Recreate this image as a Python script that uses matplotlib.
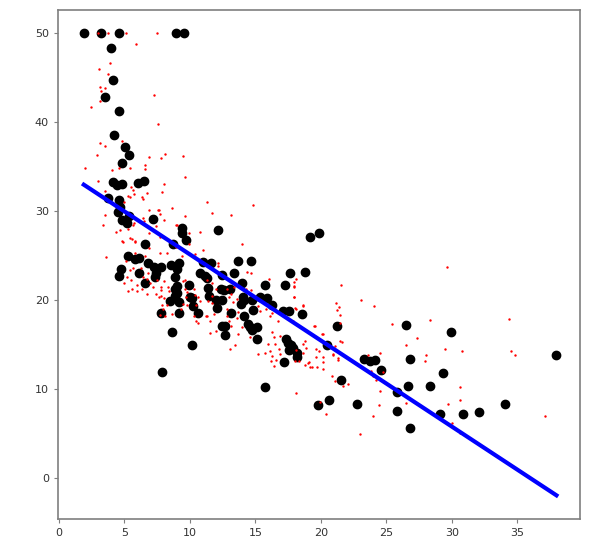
import matplotlib
matplotlib.use('Agg')
import matplotlib.pyplot as plt

# 测试集（黑点）
test_x = [1.89, 3.18, 4.61, 8.91, 9.55,
          3.97, 4.13, 3.54, 4.61, 4.18, 5.07, 5.32, 4.84,
          4.13, 4.46, 4.84, 6.04, 6.49,
          3.77, 4.61, 4.66, 4.53, 4.79, 5.22, 5.32,
          7.21, 9.42, 9.42, 9.70, 12.15, 19.17, 19.84,
          6.55, 8.71,
          5.27, 5.79, 6.08, 6.78, 7.23, 7.76, 8.55, 9.18,
          10.98, 11.63, 13.65, 14.64,
          4.71, 4.56, 6.14, 6.57, 7.41, 7.36, 9.04, 8.86,
          10.8, 11.13, 11.3, 12.45, 13.37, 14.0, 15.76, 17.3, 17.67, 18.8,
          11.38, 11.48, 12.35, 12.6, 13.06, 12.0, 12.45, 12.1,
          14.08, 13.93, 14.16, 14.77, 15.36, 15.87, 16.25,
          17.09, 17.57, 18.54, 13.16, 14.16, 14.8,
          14.44, 14.6, 14.74, 15.15, 15.1, 12.45, 12.7, 12.66,
          17.34, 17.5, 17.7, 17.9, 17.6, 18.16, 18.16, 17.19,
          20.45, 21.2,
          8.99, 8.84, 9.04, 8.86, 9.14, 8.48, 9.95, 10.0, 10.14, 10.2, 10.62, 9.2, 7.77, 8.63, 10.14, 7.89, 15.74,
          19.81, 20.65, 21.54, 22.74, 23.3, 23.76, 24.14, 24.6, 25.8, 25.82, 26.5, 26.84, 26.66, 26.84,
          28.34, 29.34, 29.1, 29.97, 30.84, 32.06, 34.07, 37.99]
test_y = [50, 50, 50, 50, 50,
          48.3, 44.7, 42.8, 41.3, 38.6, 37.2, 36.3, 35.4,
          33.3, 32.9, 33.1, 33.2, 33.4,
          31.5, 31.2, 30.5, 29.9, 29.0, 28.7, 29.4,
          29.1, 28.1, 27.5, 26.7, 27.9, 27.1, 27.5,
          26.3, 26.3,
          25.0, 24.6, 24.75, 24.2, 23.75, 23.7, 23.9, 24.2,
          24.25, 24.2, 24.4, 24.35,
          23.5, 22.75, 23.0, 21.9, 23.05, 22.55, 23.5, 22.55,
          23.05, 22.7, 22.5, 22.8, 23.1, 21.9, 21.7, 21.7, 23.1, 23.2,
          21.4, 20.5, 21.2, 21.1, 21.2, 20.05, 20.0, 19.1,
          20.4, 19.6, 20.05, 20.05, 20.35, 20.25, 19.4,
          18.75, 18.75, 18.45, 18.6, 18.25, 18.85,
          17.35, 17.0, 16.6, 17.0, 15.6, 17.1, 17.1, 16.1,
          15.6, 15.2, 14.9, 14.6, 14.4, 14.1, 13.6, 13.0,
          15.0, 17.1,
          21.55, 21.2, 20.8, 20.5, 19.75, 19.95, 21.65, 20.3, 20.25, 19.3, 18.6, 18.6, 18.55, 16.4, 14.95, 11.9, 10.2,
          8.2, 8.75, 11.0, 8.35, 13.4, 13.1, 13.25, 12.2, 9.7, 7.5, 17.2, 13.4, 10.3, 5.6,
          10.4, 11.8, 7.2, 16.4, 7.2, 7.4, 8.35, 13.8]

# 训练集（红点）
train_x = [2.96, 3.72, 5.12, 7.49, 5.91, 3.9, 3.06, 3.77, 3.11, 3.54, 3.18, 3.13, 7.28, 2.47, 7.56,
           4.84, 3.13, 3.54, 2.9, 6.9, 7.77, 8.12, 9.5, 1.96, 4.05, 4.6, 5.4, 6.57, 6.6, 9.65,
           2.98, 8.05, 3.54, 5.48, 5.67, 7.84, 6.7, 5.4, 6.45,
           3.54, 3.34, 3.59, 11.28, 11.7, 14.8, 13.14, 8.63, 7.54, 6.88, 8.05, 7.7, 9.63,
           14.0, 10.77, 9.95, 8.99, 7.4, 4.33, 5.68, 6.51, 5.55, 4.84, 5.83, 6.88, 7.7, 9.42,
           10.4, 10.98, 12.17,
           5.27, 5.72, 6.36, 4.99, 7.62, 5.73, 6.4, 4.69, 5.3, 4.86, 5.4, 5.83, 6.9, 7.72,
           8.91, 9.93, 8.23, 8.94, 5.8, 5.1, 5.42, 5.63, 6.25, 6.6, 6.44, 6.78, 5.16, 5.52,
           4.99, 5.55, 5.99, 5.3, 5.94, 6.3, 6.7, 6.93, 7.2, 7.5, 7.8, 7.4, 7.8, 8.05, 8.3,
           8.4, 6.75, 8.0, 8.28, 7.97, 7.8, 7.85, 9.45, 9.6, 9.63, 9.8, 9.7, 9.5, 9.3, 9.8,
           10.3, 10.4, 10.6, 10.5, 10.8, 10.3, 10.47, 10.6, 11.2, 11.35, 11.5, 8.63, 8.1,
           7.7, 7.62,
           12.12, 14.34, 14.7, 16.07, 18.1, 17.95, 21.52, 11.28, 11.7, 12.0, 12.8, 13.4, 13.1,
           14.3, 14.7, 11.7, 13.0, 13.3, 13.6, 11.7, 11.28, 11.8, 12.8, 12.8, 13.6, 13.7, 15.2,
           15.35, 15.8, 16.1, 16.3, 16.7, 17.0, 17.95, 18.1, 18.6, 17.9, 11.5, 13.0, 12.0,
           13.1, 14.0, 13.7, 14.6, 16.25, 16.4, 16.9, 16.0, 16.5, 16.1, 16.8, 15.74, 15.2,
           16.3, 16.9, 13.44, 13.06, 16.2, 16.6, 16.4, 18.3, 18.66, 18.9, 19.56, 20.14, 21.2,
           21.46, 21.5, 21.1, 21.6, 19.85, 19.6, 20.2, 19.0, 19.3, 19.7, 20.9, 21.3,
           21.16, 21.4, 23.07, 24.04, 17.95, 17.95, 18.66, 18.0, 19.48, 20.1, 21.47, 18.6,
           18.8, 18.1, 19.6, 20.2, 20.9, 21.3, 18.0, 18.8, 19.1, 19.2, 20.2, 20.88, 21.1,
           21.7, 22.1, 18.08, 19.9, 20.4, 23.0, 23.6, 24.5, 23.8, 24.0, 24.2, 24.5, 24.47,
           24.0, 23.02, 24.75, 25.46, 26.5, 27.33, 26.5, 28.0, 27.95, 28.34, 29.5, 30.8,
           30.66, 30.66, 29.7, 30.0, 30.66, 34.4, 34.5, 34.85, 37.1, 17.95, 29.64]
train_y = [50, 50, 50, 50, 48.75, 46.65, 46.0, 45.4, 44.0, 43.8, 43.5, 42.4, 43.05, 41.7, 39.8,
           37.9, 37.6, 37.3, 36.3, 36.1, 36.0, 36.4, 36.2, 34.9, 34.65, 34.9, 34.8, 35.2, 34.7, 33.8,
           33.4, 33.0, 32.3, 32.7, 32.4, 32.2, 32.0, 31.6, 31.4,
           29.6, 28.45, 24.8, 31.0, 29.8, 30.65, 29.6, 30.3, 30.1, 30.1, 29.0, 29.7, 29.5,
           26.3, 27.6, 26.3, 28.4, 28.3, 27.7, 28.4, 28.9, 26.9, 26.6, 26.6, 25.9, 25.3, 25.0,
           25.2, 25.6, 24.2,
           31.7, 31.9, 31.6, 31.0, 30.1, 28.65, 29.2, 27.9, 28.0, 26.5, 27.0, 26.5, 27.5, 27.1,
           28.4, 27.5, 25.3, 26.0, 25.3, 24.4, 23.4, 23.6, 23.6, 24.9, 22.55, 23.1, 22.55, 22.3,
           21.9, 21.2, 21.7, 21.0, 21.0, 21.3, 22.4, 21.9, 21.5, 22.3, 21.5, 20.7, 21.1, 22.1, 21.5,
           21.0, 20.7, 20.2, 19.5, 19.0, 20.5, 19.5, 22.1, 22.3, 21.2, 20.9, 20.3, 19.6, 19.0, 19.5,
           21.2, 20.6, 20.3, 19.5, 19.9, 18.2, 17.6, 17.4, 18.2, 19.9, 16.25, 18.4, 18.2,
           18.3, 20.3,
           23.8, 23.2, 23.0, 22.4, 22.4, 21.5, 21.7, 22.3, 21.9, 21.2, 21.3, 21.5, 20.7,
           21.3, 21.1, 20.5, 20.3, 19.8, 20.1, 19.7, 18.2, 18.45, 19.0, 18.2, 18.0, 18.7, 19.3,
           18.8, 19.0, 18.2, 18.5, 17.7, 18.4, 20.4, 19.0, 19.3, 17.7, 17.6, 17.6, 16.5,
           17.1, 17.0, 16.2, 15.8, 16.4, 15.8, 16.0, 15.1, 15.1, 14.3, 14.5, 14.1, 13.9,
           13.7, 13.9, 15.0, 14.45, 13.1, 13.3, 12.6, 13.2, 14.1, 14.6, 17.05, 16.2, 18.9,
           18.3, 17.4, 14.8, 15.3, 14.25, 13.6, 13.0, 12.9, 12.5, 12.5, 13.9, 13.3,
           19.7, 19.2, 20.0, 19.3, 21.55, 20.4, 19.5, 19.1, 17.05, 16.2, 15.4, 15.1,
           15.4, 14.4, 14.5, 13.6, 13.8, 13.5, 13.2, 12.7, 13.0, 12.5, 12.3, 11.45, 10.9,
           10.4, 10.6, 9.6, 8.5, 7.2, 12.6, 13.85, 14.0, 12.0, 11.5, 11.0, 9.8, 8.2,
           7.0, 5.0, 11.9, 17.3, 14.9, 15.7, 8.4, 13.8, 13.2, 17.8, 14.5, 14.3,
           10.25, 8.8, 8.3, 6.2, 5.1, 17.9, 14.3, 13.8, 7.0, 22.0, 23.7]

# 回归线（预测值）
line_x = [1.89, 38.0]
line_y = [32.97, -1.94]

fig = plt.figure(figsize=(6.04, 5.49), dpi=100)
ax = fig.add_axes([58 / 604, 1 - 519 / 549, (580 - 58) / 604, (519 - 10) / 549])

ax.scatter(test_x, test_y, s=36, color='black', zorder=2)
ax.scatter(train_x, train_y, s=3, color='red', linewidths=0, zorder=3)
ax.plot(line_x, line_y, color='blue', linewidth=3, zorder=4)

ax.set_xlim(-0.08, 39.8)
ax.set_ylim(-4.6, 52.6)
ax.set_xticks([0, 5, 10, 15, 20, 25, 30, 35])
ax.set_yticks([0, 10, 20, 30, 40, 50])
for s in ax.spines.values():
    s.set_color('#7f7f7f')
    s.set_linewidth(1.2)
ax.tick_params(labelsize=8, colors='#7f7f7f', labelcolor='#333333', length=3)

fig.savefig('out.png', dpi=100)
